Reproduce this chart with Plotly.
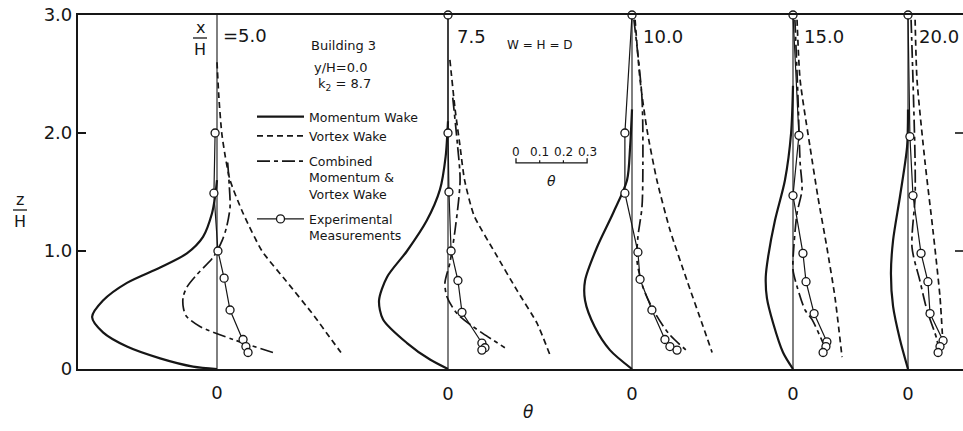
import plotly.graph_objects as go

# Downstream stations x/H and the theta profiles measured / computed at each
STATIONS = ["5.0", "7.5", "10.0", "15.0", "20.0"]

MOMENTUM_Z = [
    [0, 0.02, 0.09, 0.19, 0.31, 0.44, 0.58, 0.73, 0.86, 0.98, 1.12, 1.32, 1.46, 1.6],
    [0, 0.08, 0.22, 0.42, 0.58, 0.78, 1.0, 1.26, 1.52, 1.8, 2.1],
    [0, 0.16, 0.36, 0.58, 0.75, 1.03, 1.32, 1.6, 1.88, 2.2],
    [0, 0.14, 0.39, 0.6, 0.78, 0.95, 1.26, 1.6, 2.0, 2.4],
    [0, 0.25, 0.53, 0.81, 1.09, 1.46, 1.88, 2.2],
]
MOMENTUM_THETA = [
    [0, -0.101, -0.24, -0.38, -0.481, -0.527, -0.481, -0.38, -0.24, -0.127, -0.059, -0.021, -0.008, 0],
    [0, -0.076, -0.173, -0.274, -0.291, -0.257, -0.173, -0.089, -0.034, -0.01, 0],
    [0, -0.093, -0.158, -0.198, -0.198, -0.148, -0.08, -0.021, -0.008, 0],
    [0, -0.042, -0.084, -0.11, -0.115, -0.105, -0.076, -0.034, -0.008, 0],
    [0, -0.034, -0.063, -0.072, -0.063, -0.034, -0.004, 0],
]

VORTEX_Z = [
    [2.6, 2.3, 2.0, 1.8, 1.6, 1.32, 1.0, 0.75, 0.45, 0.27, 0.14],
    [2.62, 2.2, 1.9, 1.6, 1.3, 0.98, 0.67, 0.39, 0.12],
    [2.96, 2.45, 2.03, 1.6, 1.18, 0.75, 0.36, 0.14],
    [2.96, 2.45, 1.88, 1.46, 1.03, 0.61, 0.1],
    [2.96, 2.45, 1.75, 1.18, 0.61, 0.19],
]
VORTEX_THETA = [
    [0, 0.008, 0.02, 0.035, 0.055, 0.11, 0.19, 0.29, 0.41, 0.475, 0.523],
    [0.008, 0.03, 0.05, 0.07, 0.11, 0.2, 0.29, 0.375, 0.43],
    [0.013, 0.034, 0.063, 0.105, 0.16, 0.232, 0.3, 0.338],
    [0.017, 0.03, 0.072, 0.105, 0.143, 0.177, 0.207],
    [0.03, 0.038, 0.072, 0.105, 0.135, 0.148],
]

COMBINED_Z = [
    [1.75, 1.55, 1.37, 1.2, 1.09, 0.95, 0.8, 0.7, 0.61, 0.52, 0.45, 0.36, 0.25, 0.14],
    [2.3, 1.9, 1.6, 1.18, 0.9, 0.73, 0.61, 0.47, 0.36, 0.3, 0.18],
    [2.96, 2.3, 1.75, 1.37, 1.12, 0.92, 0.7, 0.5, 0.3, 0.14],
    [2.96, 2.3, 1.75, 1.52, 1.32, 1.05, 0.84, 0.7, 0.5, 0.42, 0.22],
    [2.96, 2.45, 1.75, 1.46, 1.03, 0.75, 0.5, 0.25, 0.15],
]
COMBINED_THETA = [
    [0.045, 0.052, 0.055, 0.04, 0.022, -0.015, -0.085, -0.125, -0.143, -0.142, -0.13, -0.072, 0.068, 0.236],
    [0.02, 0.04, 0.051, 0.03, 0.008, -0.013, -0.004, 0.038, 0.105, 0.148, 0.24],
    [0.008, 0.042, 0.046, 0.042, 0.025, 0.021, 0.045, 0.09, 0.155, 0.24],
    [0.008, 0.021, 0.03, 0.038, 0.017, 0.004, 0.0, 0.017, 0.051, 0.08, 0.127],
    [0.013, 0.021, 0.03, 0.03, 0.017, 0.05, 0.08, 0.122, 0.13],
]

EXP_Z = [
    [2.0, 1.49, 1.0, 0.77, 0.5, 0.25, 0.19, 0.14],
    [3.0, 2.0, 1.5, 1.0, 0.75, 0.48, 0.22, 0.18, 0.16],
    [3.0, 2.0, 1.49, 0.99, 0.76, 0.5, 0.25, 0.19, 0.16],
    [3.0, 1.98, 1.47, 0.98, 0.74, 0.47, 0.23, 0.19, 0.14],
    [3.0, 1.97, 1.47, 0.98, 0.74, 0.47, 0.24, 0.19, 0.14],
]
EXP_THETA = [
    [-0.008, -0.013, 0.004, 0.03, 0.055, 0.11, 0.122, 0.131],
    [0, 0, 0.004, 0.013, 0.042, 0.059, 0.143, 0.156, 0.143],
    [0, -0.03, -0.03, 0.025, 0.034, 0.084, 0.139, 0.16, 0.19],
    [0, 0.025, 0, 0.042, 0.055, 0.089, 0.143, 0.139, 0.127],
    [0, 0.008, 0.021, 0.055, 0.084, 0.093, 0.148, 0.135, 0.127],
]

Y_TICKS = [0, 1, 2, 3]
Y_TICK_TEXT = ["0", "1.0", "2.0", "3.0"]
SCALE_TICKS = [0, 0.1, 0.2, 0.3]
SCALE_TEXT = ["0", "0.1", "0.2", "0.3"]

# ---- page geometry (pixels) ----
W, H = 963, 431
LEFT, RIGHT, TOP, BOTTOM = 78, 963, 15, 369
PX_PER_THETA = 237.0
BASELINE_PX = [217, 448, 632, 793, 908]
SCALE_PX = 516
FONT = "DejaVu Sans"
INK = "#161616"


def px_x(px):
    return (px - LEFT) / (RIGHT - LEFT)


def px_y(py):
    return (BOTTOM - py) / (BOTTOM - TOP)


def theta_range(zero_px):
    return [-(zero_px - LEFT) / PX_PER_THETA, (RIGHT - zero_px) / PX_PER_THETA]


def axis_key(i):
    return "x" if i == 0 else f"x{i + 1}"


fig = go.Figure()

for i in range(len(STATIONS)):
    xa = axis_key(i)
    first = i == 0
    # zero-theta reference line of the station
    fig.add_trace(go.Scatter(
        x=[0, 0], y=[0, 3], xaxis=xa, yaxis="y", mode="lines",
        line=dict(color=INK, width=1.1), showlegend=False, hoverinfo="skip"))
    fig.add_trace(go.Scatter(
        x=MOMENTUM_THETA[i], y=MOMENTUM_Z[i], xaxis=xa, yaxis="y", mode="lines",
        line=dict(color=INK, width=2.2, shape="spline", smoothing=0.8),
        name="Momentum Wake", legendgroup="single", showlegend=first))
    fig.add_trace(go.Scatter(
        x=VORTEX_THETA[i], y=VORTEX_Z[i], xaxis=xa, yaxis="y", mode="lines",
        line=dict(color=INK, width=1.7, dash="6px,4px", shape="spline", smoothing=0.6),
        name="Vortex Wake", legendgroup="single", showlegend=first))
    fig.add_trace(go.Scatter(
        x=COMBINED_THETA[i], y=COMBINED_Z[i], xaxis=xa, yaxis="y", mode="lines",
        line=dict(color=INK, width=1.7, dash="13px,4px,4px,4px", shape="spline", smoothing=0.8),
        name="Combined<br>Momentum &<br>Vortex Wake", legendgroup="com", showlegend=first))
    fig.add_trace(go.Scatter(
        x=EXP_THETA[i], y=EXP_Z[i], xaxis=xa, yaxis="y", mode="lines+markers",
        line=dict(color=INK, width=1.2),
        marker=dict(symbol="circle", size=8, color="white", line=dict(color=INK, width=1.3)),
        cliponaxis=False,
        name="Experimental<br>Measurements", legendgroup="exp", showlegend=first))

# theta scale bar
sx = "x6"
fig.add_trace(go.Scatter(
    x=[SCALE_TICKS[0], SCALE_TICKS[0], SCALE_TICKS[-1], SCALE_TICKS[-1]],
    y=[1.785, 1.746, 1.746, 1.785], xaxis=sx, yaxis="y", mode="lines",
    line=dict(color=INK, width=1.3), showlegend=False, hoverinfo="skip"))
for t in SCALE_TICKS[1:-1]:
    fig.add_trace(go.Scatter(
        x=[t, t], y=[1.746, 1.77], xaxis=sx, yaxis="y", mode="lines",
        line=dict(color=INK, width=1.2), showlegend=False, hoverinfo="skip"))

tickfont = dict(family=FONT, size=18, color=INK)
base_x = dict(domain=[0, 1], showgrid=False, zeroline=False, tickvals=[0], ticktext=["0"],
              ticks="", tickfont=tickfont, ticklabelstandoff=12, fixedrange=True)
layout_axes = {}
for i, b in enumerate(BASELINE_PX):
    key = "xaxis" if i == 0 else f"xaxis{i + 1}"
    ax = dict(base_x, range=theta_range(b))
    if i == 0:
        ax.update(showline=True, mirror=True, linecolor=INK, linewidth=2.2,
                  ticklabelstandoff=6)
    else:
        ax.update(overlaying="x", anchor="y", showline=False)
    layout_axes[key] = ax
layout_axes["xaxis6"] = dict(domain=[0, 1], overlaying="x", anchor="y", visible=False,
                             range=theta_range(SCALE_PX))

fig.update_layout(
    width=W, height=H,
    margin=dict(l=LEFT, r=W - RIGHT, t=TOP, b=H - BOTTOM, pad=0),
    paper_bgcolor="white", plot_bgcolor="white",
    font=dict(family=FONT, color=INK),
    yaxis=dict(range=[0, 3], showgrid=False, zeroline=False, showline=True,
               linecolor=INK, linewidth=2.2, ticks="inside", ticklen=8, tickwidth=1.6,
               tickcolor=INK, tickvals=Y_TICKS, ticktext=Y_TICK_TEXT, tickfont=tickfont,
               ticklabelstandoff=0, fixedrange=True),
    legend=dict(x=px_x(252), y=px_y(102), xanchor="left", yanchor="top",
                bgcolor="rgba(0,0,0,0)", borderwidth=0, itemwidth=47,
                valign="top", tracegroupgap=6,
                font=dict(family=FONT, size=12.5, color=INK)),
    **layout_axes,
)

ann = []


def label(text, px, py, size=18, xanchor="center", **kw):
    ann.append(dict(text=text, x=px_x(px), y=px_y(py), xref="paper", yref="paper",
                    showarrow=False, xanchor=xanchor, yanchor="middle",
                    font=dict(family=FONT, size=size, color=INK), **kw))


# station labels
label("x", 200, 27, size=16)
label("H", 200, 49, size=16)
label("=5.0", 221, 35, xanchor="left")
for txt, px in zip(STATIONS[1:], [455, 641, 802, 917]):
    label(txt, px, 37, xanchor="left")

# case description
label("Building 3", 343, 45, size=13)
label("y/H=0.0", 340, 67, size=13)
label("k<sub>2</sub> = 8.7", 344, 85, size=13)
label("W = H = D", 540, 45, size=12)

# axis titles
label("z", 20, 199, size=16)
label("H", 20, 221, size=16)
label("<i>θ</i>", 528, 412, size=17)

# scale bar labels
for t, txt in zip(SCALE_TICKS, SCALE_TEXT):
    ann.append(dict(text=txt, x=t, y=1.84, xref="x6", yref="y", showarrow=False,
                    xanchor="center", yanchor="middle",
                    font=dict(family=FONT, size=12, color=INK)))
ann.append(dict(text="<i>θ</i>", x=0.15, y=1.59, xref="x6", yref="y", showarrow=False,
                font=dict(family=FONT, size=14, color=INK)))

shapes = [
    dict(type="line", xref="paper", yref="paper", x0=px_x(193), x1=px_x(207),
         y0=px_y(38), y1=px_y(38), line=dict(color=INK, width=1.3)),
    dict(type="line", xref="paper", yref="paper", x0=px_x(13), x1=px_x(27),
         y0=px_y(210), y1=px_y(210), line=dict(color=INK, width=1.3)),
]
# right-hand tick marks
for yv in Y_TICKS[1:3]:
    shapes.append(dict(type="line", xref="paper", yref="y", x0=px_x(955), x1=1,
                       y0=yv, y1=yv, line=dict(color=INK, width=1.6)))

fig.update_layout(annotations=ann, shapes=shapes)

fig.write_html("out.html", config={"displayModeBar": False})
